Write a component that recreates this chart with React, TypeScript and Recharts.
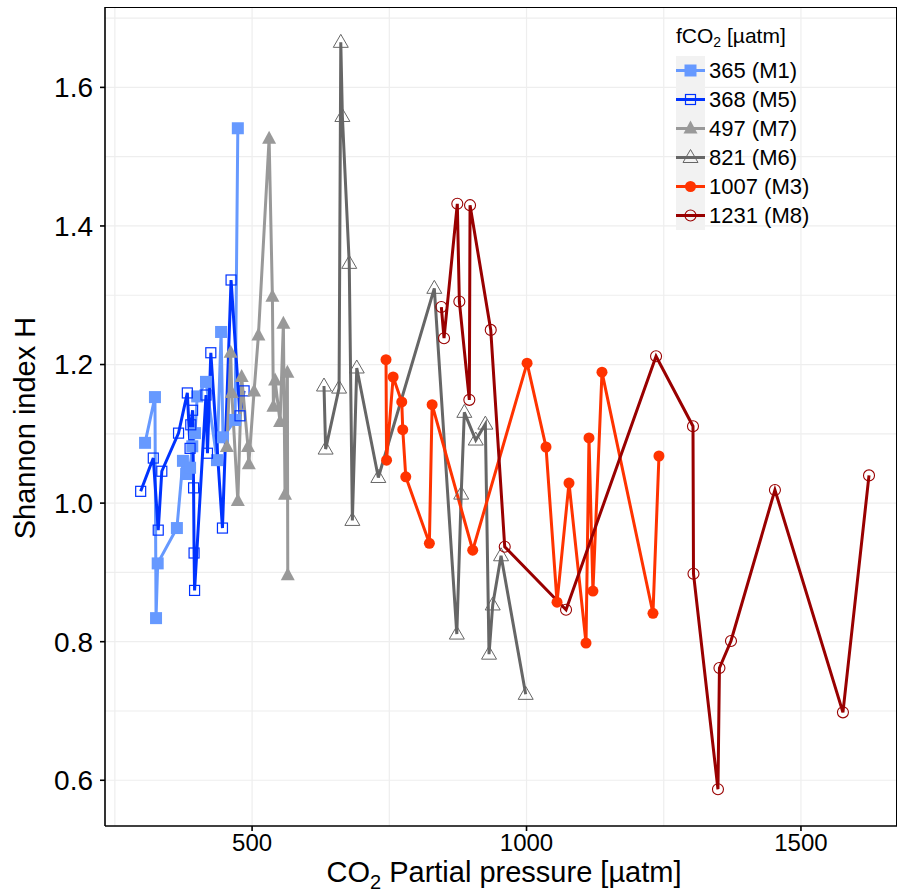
import React from 'react'
import {
  CartesianGrid,
  ComposedChart,
  Line,
  XAxis,
  YAxis,
} from 'recharts'

// Shannon index H vs. CO2 partial pressure, one series per mesocosm.
// Lines join them in x order.
const M1_X = [305, 323, 325, 328, 363, 374, 380, 387, 391, 396, 400, 416, 436, 443.5, 447, 469, 474]
const M1_Y = [1.087, 1.153, 0.834, 0.913, 0.964, 1.061, 1.042, 1.051, 1.082, 1.101, 1.154, 1.175, 1.062, 1.247, 1.095, 1.12, 1.541]

const M5_X = [297, 320, 329, 335.5, 366, 382, 387, 388.3, 391.6, 393.4, 394.3, 395.2, 416, 418.7, 424.8, 446, 461.7, 478, 485.4]
const M5_Y = [1.017, 1.065, 0.961, 1.046, 1.101, 1.159, 1.079, 1.113, 1.134, 1.022, 0.928, 0.874, 1.156, 1.072, 1.217, 0.964, 1.322, 1.126, 1.162]

const M7_X = [454, 461, 463, 474, 481, 492.5, 494, 503.6, 511.5, 531, 537, 538.8, 541.9, 551, 557, 560, 564.3, 565]
const M7_Y = [1.081, 1.217, 1.159, 1.003, 1.182, 1.081, 1.056, 1.161, 1.242, 1.526, 1.298, 1.139, 1.177, 1.117, 1.259, 1.012, 1.188, 0.896]

const M6_X = [631, 634, 658.5, 661.6, 664.5, 677, 682.7, 690.7, 730, 832, 873, 881, 886.7, 907.5, 925, 931.7, 938.4, 953.6, 998.5]
const M6_Y = [1.169, 1.078, 1.166, 1.665, 1.558, 1.346, 0.975, 1.195, 1.037, 1.31, 0.811, 1.013, 1.131, 1.091, 1.114, 0.782, 0.853, 0.924, 0.724]

const M3_X = [744, 745, 757, 772.7, 774.5, 780, 823, 828, 902, 1001, 1035.5, 1055.6, 1077.4, 1108.4, 1113.8, 1121, 1137.5, 1230.4, 1241.3]
const M3_Y = [1.207, 1.062, 1.182, 1.146, 1.106, 1.038, 0.942, 1.142, 0.932, 1.202, 1.081, 0.857, 1.029, 0.798, 1.094, 0.873, 1.189, 0.841, 1.068]

const M8_X = [844.8, 849.7, 873.9, 877.6, 895.8, 897.1, 934.8, 960.3, 1072, 1236, 1303.3, 1304.2, 1348.8, 1351.5, 1372.5, 1452.6, 1576.5, 1624]
const M8_Y = [1.283, 1.238, 1.432, 1.291, 1.149, 1.43, 1.25, 0.937, 0.846, 1.212, 1.111, 0.898, 0.587, 0.762, 0.801, 1.019, 0.698, 1.04]

const X_TICKS = [500, 1000, 1500]
const Y_TICKS = [0.6, 0.8, 1.0, 1.2, 1.4, 1.6]
const X_GRID = [250, 500, 750, 1000, 1250, 1500]
const Y_GRID = [0.6, 0.7, 0.8, 0.9, 1.0, 1.1, 1.2, 1.3, 1.4, 1.5, 1.6, 1.7]

type Kind = 'sqFill' | 'sqOpen' | 'triFill' | 'triOpen' | 'dotFill' | 'dotOpen'

const toRows = (xs: number[], ys: number[]) => xs.map((x, i) => ({ x, y: ys[i] }))

const SERIES: { name: string; color: string; kind: Kind; rows: { x: number; y: number }[] }[] = [
  { name: '365 (M1)', color: '#6699FF', kind: 'sqFill', rows: toRows(M1_X, M1_Y) },
  { name: '368 (M5)', color: '#0033FF', kind: 'sqOpen', rows: toRows(M5_X, M5_Y) },
  { name: '497 (M7)', color: '#999999', kind: 'triFill', rows: toRows(M7_X, M7_Y) },
  { name: '821 (M6)', color: '#666666', kind: 'triOpen', rows: toRows(M6_X, M6_Y) },
  { name: '1007 (M3)', color: '#FF3300', kind: 'dotFill', rows: toRows(M3_X, M3_Y) },
  { name: '1231 (M8)', color: '#990000', kind: 'dotOpen', rows: toRows(M8_X, M8_Y) },
]

const FONT = '"Liberation Sans", Arial, sans-serif'

function Marker({ kind, cx, cy, color }: { kind: Kind; cx: number; cy: number; color: string }) {
  switch (kind) {
    case 'sqFill':
      return <rect x={cx - 6} y={cy - 6} width={12} height={12} fill={color} />
    case 'sqOpen':
      return <rect x={cx - 5} y={cy - 5} width={10} height={10} fill="none" stroke={color} strokeWidth={1.2} />
    case 'triFill':
      return <polygon points={`${cx},${cy - 8} ${cx - 7},${cy + 5} ${cx + 7},${cy + 5}`} fill={color} />
    case 'triOpen':
      return (
        <polygon
          points={`${cx},${cy - 8} ${cx - 7.5},${cy + 5} ${cx + 7.5},${cy + 5}`}
          fill="none"
          stroke={color}
          strokeWidth={1}
        />
      )
    case 'dotFill':
      return <circle cx={cx} cy={cy} r={5.5} fill={color} />
    default:
      return <circle cx={cx} cy={cy} r={5.5} fill="none" stroke={color} strokeWidth={1.1} />
  }
}

function XTitle() {
  return (
    <text x={504} y={882} textAnchor="middle" fontFamily={FONT} fontSize={29} fill="#000">
      CO<tspan fontSize={20} dy={7}>2</tspan>
      <tspan dy={-7}> Partial pressure [µatm]</tspan>
    </text>
  )
}

function YTitle() {
  return (
    <text
      x={35}
      y={428}
      textAnchor="middle"
      fontFamily={FONT}
      fontSize={29}
      fill="#000"
      transform="rotate(-90 35 428)"
    >
      Shannon index H
    </text>
  )
}

function LegendBox() {
  return (
    <div style={{ position: 'absolute', left: 676, top: 22, fontFamily: FONT, color: '#000' }}>
      <div style={{ fontSize: 21, lineHeight: '28px', whiteSpace: 'nowrap' }}>
        fCO<sub style={{ fontSize: 14, verticalAlign: '-4px' }}>2</sub> [µatm]
      </div>
      {SERIES.map((s) => (
        <div key={s.name} style={{ display: 'flex', alignItems: 'center', height: 29 }}>
          <svg width={29} height={29} style={{ background: '#F2F2F2', display: 'block' }}>
            <line x1={0} x2={29} y1={14.5} y2={14.5} stroke={s.color} strokeWidth={3} />
            <Marker kind={s.kind} cx={14.5} cy={14.5} color={s.color} />
          </svg>
          <span style={{ fontSize: 22, marginLeft: 4, whiteSpace: 'nowrap' }}>{s.name}</span>
        </div>
      ))}
    </div>
  )
}

export default function App() {
  return (
    <div style={{ position: 'absolute', left: 0, top: 0, width: 898, height: 895, background: '#fff' }}>
      <ComposedChart width={898} height={895} margin={{ top: 7, right: 1, left: 0, bottom: 0 }}>
        <CartesianGrid
          horizontalValues={Y_GRID}
          verticalValues={X_GRID}
          stroke="#EEEEEE"
          strokeWidth={1.2}
        />
        <XAxis
          type="number"
          dataKey="x"
          domain={[232, 1675]}
          ticks={X_TICKS}
          allowDataOverflow
          height={69}
          tickSize={5}
          tickMargin={3}
          stroke="#000"
          strokeWidth={1.6}
          tick={{ fill: '#000', fontSize: 24, fontFamily: FONT }}
          label={{ content: () => <XTitle /> }}
        />
        <YAxis
          type="number"
          dataKey="y"
          domain={[0.534, 1.716]}
          ticks={Y_TICKS}
          allowDataOverflow
          width={105}
          tickSize={5}
          tickMargin={7}
          stroke="#000"
          strokeWidth={1.6}
          tickFormatter={(v: number) => v.toFixed(1)}
          tick={{ fill: '#000', fontSize: 28, fontFamily: FONT }}
          label={{ content: () => <YTitle /> }}
        />
        {SERIES.map((s) => (
          <Line
            key={`line-${s.name}`}
            data={s.rows}
            dataKey="y"
            stroke={s.color}
            strokeWidth={3}
            dot={false}
            activeDot={false}
            isAnimationActive={false}
          />
        ))}
        {SERIES.map((s) => (
          <Line
            key={`pts-${s.name}`}
            data={s.rows}
            dataKey="y"
            stroke="none"
            activeDot={false}
            isAnimationActive={false}
            dot={(p: any) => <Marker key={`${s.name}-${p.index}`} kind={s.kind} cx={p.cx} cy={p.cy} color={s.color} />}
          />
        ))}
      </ComposedChart>
      <div
        style={{
          position: 'absolute',
          left: 105,
          top: 7,
          width: 792,
          height: 819,
          borderTop: '1.5px solid #000',
          borderRight: '1.5px solid #000',
          boxSizing: 'border-box',
          pointerEvents: 'none',
        }}
      />
      <LegendBox />
    </div>
  )
}
